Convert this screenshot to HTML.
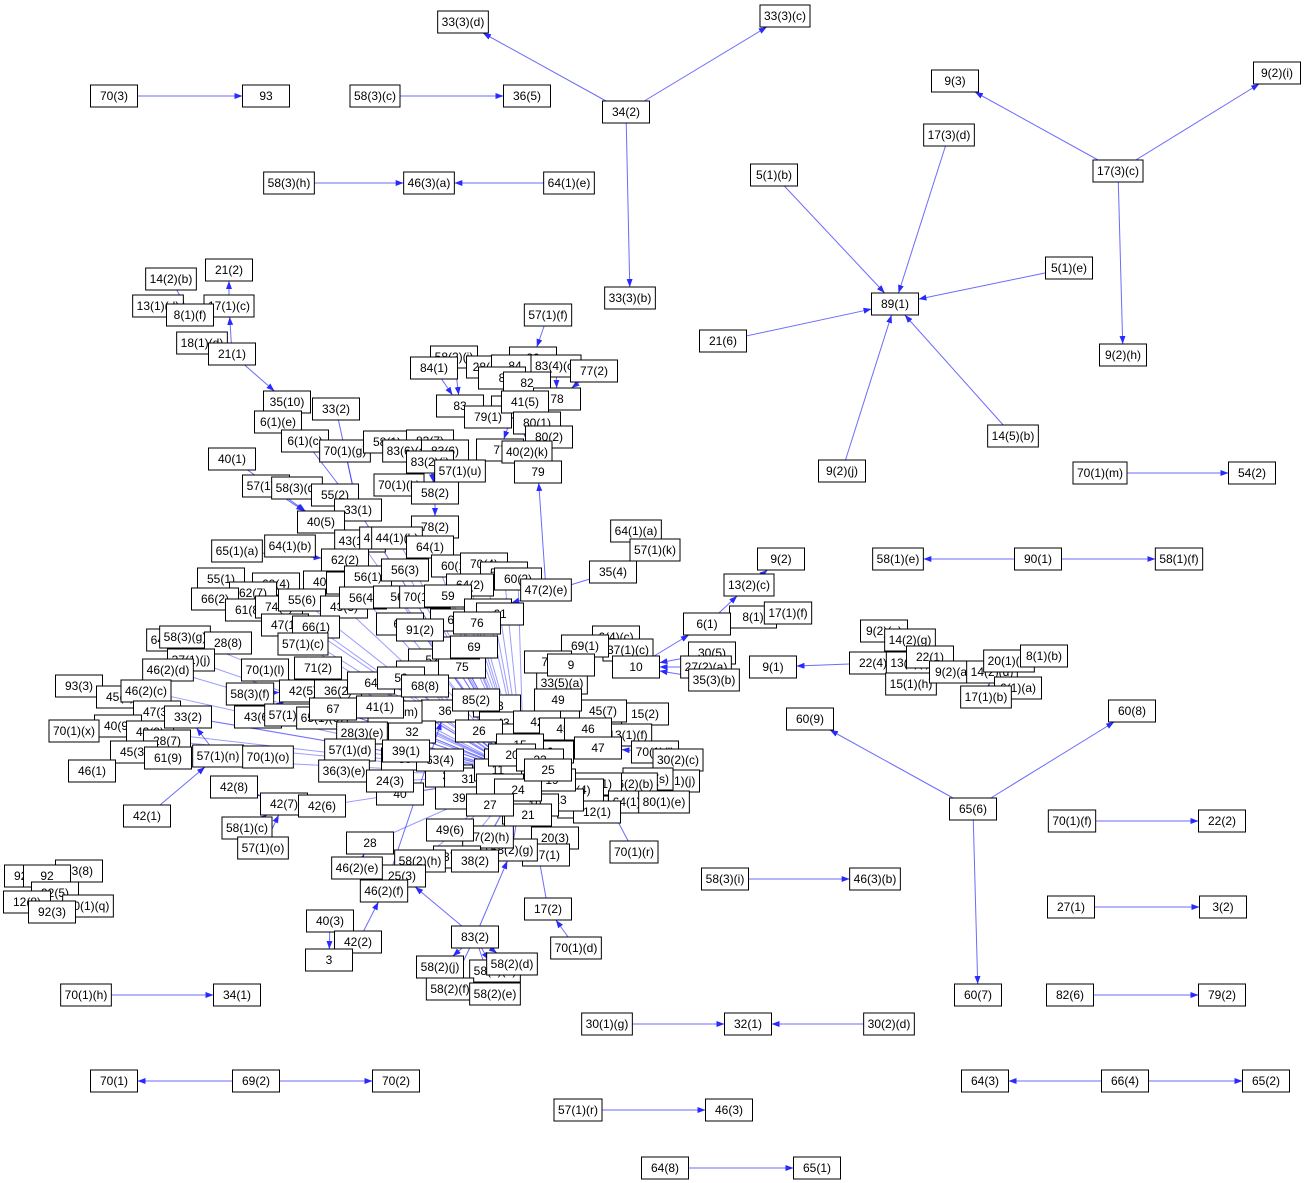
<!DOCTYPE html>
<html><head><meta charset="utf-8"><style>
html,body{margin:0;padding:0;background:#fff;}
svg{display:block;}
text{font-family:"Liberation Sans",Arial,sans-serif;font-size:12px;fill:#000;}
</style></head><body>
<svg id="g" width="1305" height="1183" viewBox="0 0 1305 1183" xmlns="http://www.w3.org/2000/svg">
<defs><marker id="ah" markerWidth="8" markerHeight="6" refX="8" refY="3" orient="auto" markerUnits="userSpaceOnUse"><path d="M0,0 L8,3 L0,6 Z" fill="#2a2aff"/></marker></defs>
<g id="edges"></g>
<g id="nodes"></g>
</svg>
<script>
const nodeLabels = ["70(3)","93","58(3)(c)","36(5)","33(3)(d)","33(3)(c)","34(2)","58(3)(h)","46(3)(a)","64(1)(e)","33(3)(b)",
"9(3)","9(2)(i)","17(3)(d)","17(3)(c)","5(1)(b)","89(1)","5(1)(e)","21(6)","9(2)(h)","14(5)(b)","9(2)(j)","70(1)(m)","54(2)",
"58(1)(e)","90(1)","58(1)(f)","60(9)","60(8)","65(6)","60(7)","70(1)(f)","22(2)","27(1)","3(2)","82(6)","79(2)","58(3)(i)","46(3)(b)",
"64(3)","66(4)","65(2)","30(1)(g)","32(1)","30(2)(d)","57(1)(r)","46(3)","64(8)","65(1)","70(1)(h)","34(1)","70(1)","69(2)","70(2)",
"21(2)","14(2)(b)","13(1)(d)","17(1)(c)","8(1)(f)","18(1)(d)","21(1)","35(10)","33(2)","6(1)(e)","6(1)(c)","40(1)","70(1)(g)",
"57(1)(f)","58(2)(i)","84(1)","28(10)","80","84","83(4)(c)","77(2)","8","82","83","78","45(7)","79(1)","41(5)","80(1)","80(2)","77","40(2)(k)","79",
"58(1)","83(7)","83(6)(a)","83(6)","83(2)(i)","57(1)(u)","70(1)(k)","58(2)","57(1)(i)","58(3)(d)","55(2)","33(1)","40(5)","78(2)","43(1)(e)","42(1)(b)","44(1)(b)","64(1)",
"64(1)(a)","57(1)(k)","35(4)","64(1)(b)","65(1)(a)","62(2)","60(1)","70(4)","56(5)","64(2)","60(2)","47(2)(e)","55(1)","60(4)","40(7)","53","56(1)","56(3)",
"62(7)","66(2)","61(8)","74(1)","55(6)","43(3)","56(4)","56","70(1)(b)","59","47(1)","66(1)","57(1)(c)",
"9(2)","13(2)(c)","8(1)","17(1)(f)","6(1)","6(4)(c)","37(1)(c)","69(1)","10","30(5)","27(2)(a)","35(3)(b)","9(1)","22(4)","9(2)(g)","14(2)(g)","13(2)(f)","22(1)","15(1)(h)","9(2)(a)","14(2)(d)","20(1)(a)","8(1)(b)","6(1)(a)","17(1)(b)",
"64(1)(g)","58(3)(g)","28(8)","37(1)(j)","46(2)(d)","93(3)","45(6)","46(2)(c)","47(3)","40(9)","70(1)(x)","43(9)","33(2)","28(7)","45(3)","61(9)","46(1)","58(3)(f)","70(1)(l)","42(5)","36(2)","43(6)","57(1)(b)","65(1)(e)","57(1)(n)","70(1)(o)","42(8)","42(1)","42(7)","42(6)","58(1)(c)","57(1)(o)","43(8)","92(2)","92","92(5)","70(1)(q)","12(8)","92(3)",
"70(1)(r)","20(3)","17(1)","17(2)","70(1)(d)","58(2)(g)","47(2)(h)","49(6)","37(5)","38(2)","58(2)(h)","25(3)","46(2)(e)","46(2)(f)","40(3)","42(2)","3","83(2)","58(2)(j)","58(2)(a)","58(2)(d)","58(2)(f)","58(2)(e)",
"15(2)","45(7)","13(1)(f)","70(1)(i)","30(2)(c)","70(1)(j)","37(1)(s)","46(2)(b)","26(1)","64(1)(j)","80(1)(e)","47(2)(g)","12(1)","6(4)","33(5)(a)",
"70","9","52","51","75","54","69","66","62","61","76","60","91(2)","64","58","67","73","36","43","12","42","45","49","46","47","35","32","30","31","39","40","28","26","85(2)","88(2)","37",
"1","2","4","5","6","7","11","13","14","15","16","18","19","20","21","22","23","24","25","27","71(2)","40(2)(m)","28(3)(e)","57(1)(d)","36(3)(e)","24(3)","63(4)","39(1)","41(1)","68(8)"];
const nodeX = [114,266,375,527,463,785,626,289,429,569,630,
955,1277,949,1118,774,895,1069,723,1123,1013,842,1100,1252,
898,1038,1179,810,1132,973,978,1072,1222,1071,1223,1070,1222,725,875,
985,1125,1266,607,748,889,578,729,665,817,86,237,114,256,396,
229,171,158,229,190,202,232,287,336,278,305,232,345,
548,454,434,490,533,515,556,594,502,527,460,557,515,488,525,537,549,500,527,538,
387,430,408,445,430,460,399,435,266,297,335,358,321,435,360,385,397,430,
636,655,613,290,237,345,455,484,504,470,518,546,221,276,327,350,368,405,
253,215,249,279,302,344,363,397,425,448,285,316,303,
781,749,753,788,707,616,628,585,636,712,706,714,773,873,884,910,910,930,911,953,992,1009,1044,1018,986,
172,185,228,191,168,79,120,146,157,118,74,150,188,167,134,168,92,250,265,303,338,258,290,322,218,268,234,147,284,322,247,263,79,28,47,55,88,27,52,
634,555,546,548,576,512,488,450,457,475,420,402,357,384,330,358,329,475,440,495,512,450,495,
645,603,628,655,678,676,648,632,598,632,664,583,597,580,562,
548,571,432,420,462,456,474,454,488,500,477,400,420,371,401,333,497,445,503,519,537,563,558,588,598,405,412,449,468,459,400,370,479,476,526,510,
524,508,540,530,550,515,498,560,545,520,505,535,552,512,528,540,500,518,548,490,318,395,362,350,344,390,440,406,380,425];
const nodeY = [96,96,96,96,22,16,112,183,183,183,298,
81,73,135,171,175,304,268,341,355,436,471,473,473,
559,559,559,719,711,809,995,821,821,907,907,995,995,879,879,
1081,1081,1081,1024,1024,1024,1110,1110,1168,1168,995,995,1081,1081,1081,
270,279,306,306,315,343,354,402,409,422,441,459,451,
315,357,368,367,358,366,366,371,378,383,406,399,407,417,402,423,437,450,452,472,
442,441,451,451,462,471,485,493,486,488,495,510,522,527,541,538,538,547,
531,550,572,546,551,560,566,564,573,585,579,590,579,584,582,583,577,570,
593,599,610,607,600,607,598,597,597,596,625,627,644,
559,585,617,613,624,637,650,646,667,653,667,680,667,663,631,640,663,657,684,672,672,661,656,688,697,
640,637,643,660,670,686,697,691,712,726,731,732,717,741,752,758,771,694,670,691,691,717,715,718,756,757,787,816,804,806,828,848,871,876,876,893,906,902,912,
852,838,855,909,948,850,837,830,857,861,861,876,868,891,921,942,960,937,967,971,964,989,994,
714,711,735,752,760,781,779,784,784,802,802,807,812,790,683,
662,665,660,672,667,648,647,620,610,614,623,624,630,683,678,709,706,711,723,735,722,729,700,729,748,759,732,776,779,798,794,843,731,700,813,790,
775,760,765,790,752,785,770,800,770,745,795,805,780,755,815,760,785,790,770,805,668,712,733,750,771,781,760,751,707,686];
const edgeFrom = ["70(3)","58(3)(c)","34(2)","34(2)","34(2)","58(3)(h)","64(1)(e)","17(3)(c)","17(3)(c)","17(3)(c)","17(3)(d)","5(1)(b)","5(1)(e)","21(6)","9(2)(j)","14(5)(b)","70(1)(m)","90(1)","90(1)","65(6)","65(6)","65(6)","70(1)(f)","27(1)","82(6)","58(3)(i)","66(4)","66(4)","30(1)(g)","30(2)(d)","57(1)(r)","64(8)","70(1)(h)","69(2)","69(2)",
"14(2)(b)","13(1)(d)","17(1)(c)","21(1)","18(1)(d)","21(1)","35(10)","6(1)(e)","6(1)(c)","70(1)(g)","40(1)","57(1)(i)","58(3)(d)","33(2)","33(1)",
"57(1)(f)","58(2)(i)","84(1)","28(10)","80","84","83(4)(c)","77(2)","83","45(7)","41(5)","80(1)","80(2)","47(2)(e)","58(1)","83(7)","83(6)(a)","83(6)","70(1)(k)","58(2)","77","83(2)(i)",
"64(1)(a)","35(4)","30(5)","27(2)(a)","35(3)(b)","10","6(1)","13(2)(c)","17(1)(f)","22(4)","9(2)(g)","14(2)(g)","22(1)","14(2)(d)","20(1)(a)","8(1)(b)","6(1)(a)","17(1)(b)","13(2)(f)","69(1)","6(4)(c)",
"42(1)","43(8)","92(5)","57(1)(o)","58(1)(c)","40(3)","42(2)","83(2)","83(2)","83(2)","83(2)","83(2)","83(2)","83(2)","70(1)(r)","70(1)(d)","17(2)","20(3)","17(1)","58(2)(g)","46(2)(f)","46(2)(e)","93(3)","70(1)(x)","46(1)","58(3)(f)","43(6)","57(1)(n)","70(1)(o)","42(8)","65(1)(a)","55(1)","66(2)","64(1)(g)","28(8)","47(2)(g)","12(1)","15(2)","13(1)(f)","70(1)(i)","30(2)(c)","70(1)(j)","37(1)(s)","46(2)(b)","26(1)","64(1)(j)","80(1)(e)","33(5)(a)","45(7)#2"];
const edgeTo = ["93","36(5)","33(3)(d)","33(3)(c)","33(3)(b)","46(3)(a)","46(3)(a)","9(3)","9(2)(i)","9(2)(h)","89(1)","89(1)","89(1)","89(1)","89(1)","89(1)","54(2)","58(1)(e)","58(1)(f)","60(9)","60(8)","60(7)","22(2)","3(2)","79(2)","46(3)(b)","64(3)","65(2)","32(1)","32(1)","46(3)","65(1)","34(1)","70(1)","70(2)",
"8(1)(f)","8(1)(f)","21(2)","17(1)(c)","21(1)","35(10)","6(1)(c)","6(1)(c)","33(1)","33(1)","40(5)","40(5)","55(2)","33(1)","1",
"80","83","83","82","82","82","78","78","79(1)","77","40(2)(k)","40(2)(k)","40(2)(k)","79","58(2)","58(2)","57(1)(u)","57(1)(u)","58(2)","78(2)","57(1)(u)","58(2)",
"57(1)(k)","62","10","10","10","6(1)","13(2)(c)","9(2)","8(1)","9(1)","13(2)(f)","13(2)(f)","9(2)(a)","9(2)(a)","14(2)(d)","20(1)(a)","14(2)(d)","14(2)(d)","22(4)","70","37(1)(c)",
"57(1)(n)","92","92(2)","42(7)","42(7)","3","46(2)(f)","58(2)(j)","58(2)(a)","58(2)(d)","58(2)(f)","58(2)(e)","25(3)","58(2)(g)","26(1)","17(2)","1","1","1","1","36","28","45(6)","40(9)","45(3)","42(5)","42(5)","33(2)#2","70(1)(o)","42(7)","62(2)","62(7)","62(7)","28(8)","46(4)","1","1","45","46","47","46","1","1","1","1","1","1","1","1"];
const hubSpokes = ["70","9","52","51","75","54","69","66","62","61","76","60","91(2)","64","58","67","73","36","43","12","42","45","49","46","47","35","32","30","31","39","40","28","26","85(2)","88(2)","37","53","56","59","60(2)","64(2)","56(5)","60(1)","70(4)","70(1)(b)","56(3)","43(3)","66(1)","57(1)(c)","47(1)","74(1)","55(6)","36(2)","65(1)(e)","57(1)(b)","42(6)","49(6)","37(5)","38(2)","47(2)(h)","58(2)(h)","6(4)","33(5)(a)","69(1)","64(1)","44(1)(b)","43(1)(e)","78(2)","71(2)","40(2)(m)","28(3)(e)","57(1)(d)","36(3)(e)","24(3)","63(4)","39(1)","41(1)","68(8)","70(1)(l)","33(2)#2","47(3)","43(9)","28(7)","61(9)","46(2)(c)","37(1)(j)","58(3)(g)","46(2)(d)"];

const NS='http://www.w3.org/2000/svg';
const eg=document.getElementById('edges'), ng=document.getElementById('nodes');
const boxes=[]; const idx={}; const cnt={};
for(let i=0;i<nodeLabels.length;i++){
  const l=nodeLabels[i]; cnt[l]=(cnt[l]||0)+1;
  const key = cnt[l]===1 ? l : l+'#'+cnt[l];
  idx[key]=i;
}
for(let i=0;i<nodeLabels.length;i++){
  const g=document.createElementNS(NS,'g');
  
  
  const r=document.createElementNS(NS,'rect');
  const t=document.createElementNS(NS,'text');
  t.textContent=nodeLabels[i];
  t.setAttribute('x',nodeX[i]); t.setAttribute('y',nodeY[i]+4);
  t.setAttribute('text-anchor','middle');
  g.appendChild(r); g.appendChild(t); ng.appendChild(g);
  let w=t.getComputedTextLength ? t.getComputedTextLength() : nodeLabels[i].length*7;
  if(!w) w=nodeLabels[i].length*7;
  const bw=Math.max(w+8,47), bh=22;
  r.setAttribute('x',nodeX[i]-bw/2); r.setAttribute('y',nodeY[i]-bh/2);
  r.setAttribute('width',bw); r.setAttribute('height',bh);
  r.setAttribute('fill','#fff'); r.setAttribute('stroke','#000'); r.setAttribute('stroke-width','1');
  boxes[i]={w:bw,h:bh};
}
function clip(sx,sy,tx,ty,b){
  const dx=sx-tx, dy=sy-ty; if(dx===0&&dy===0) return [tx,ty];
  const hw=b.w/2, hh=b.h/2;
  const s=Math.min(dx?hw/Math.abs(dx):1e9, dy?hh/Math.abs(dy):1e9);
  return [tx+dx*s, ty+dy*s];
}
function drawEdge(a,b,op){
  if(a===undefined||b===undefined||a===b) return;
  const s=clip(nodeX[b],nodeY[b],nodeX[a],nodeY[a],boxes[a]);
  const e=clip(nodeX[a],nodeY[a],nodeX[b],nodeY[b],boxes[b]);
  const ln=document.createElementNS(NS,'line');
  
  
  ln.setAttribute('x1',s[0]); ln.setAttribute('y1',s[1]);
  ln.setAttribute('x2',e[0]); ln.setAttribute('y2',e[1]);
  ln.setAttribute('stroke','#3a3aff'); ln.setAttribute('stroke-opacity',op); ln.setAttribute('stroke-width','1');
  ln.setAttribute('marker-end','url(#ah)');
  eg.appendChild(ln);
}
for(let i=0;i<edgeFrom.length;i++) drawEdge(idx[edgeFrom[i]], idx[edgeTo[i]], '0.75');
const hub=idx["1"];
for(const s of hubSpokes) drawEdge(idx[s], hub, '0.5');
</script>
</body></html>
